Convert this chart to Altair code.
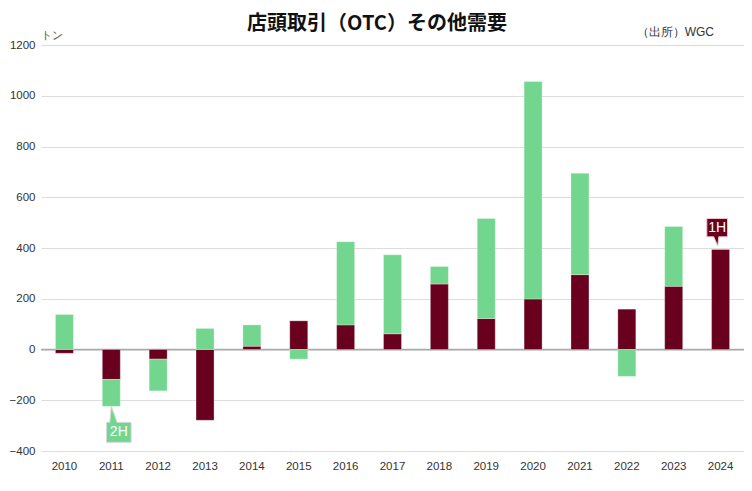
import altair as alt
import pandas as pd

years = [str(y) for y in range(2010, 2025)]
h1 = [-15, -118, -38, -279, 13, 113, 97, 62, 258, 122, 199, 295, 159, 249, 394]
h2 = [138, -106, -125, 83, 84, -38, 328, 311, 69, 394, 857, 400, -106, 236, None]
halves = ["1H", "2H"]
colors = ["#68001e", "#72d68e"]
y_ticks = [-400, -200, 0, 200, 400, 600, 800, 1000, 1200]
title_text = "店頭取引（OTC）その他需要"
source_text = "（出所）WGC"
unit_text = "トン"

rows = []
for yr, a, b in zip(years, h1, h2):
    rows.append({"year": yr, "half": "1H", "value": a})
    if b is not None:
        rows.append({"year": yr, "half": "2H", "value": b})
df = pd.DataFrame(rows)

# annotation anchors derived from data
ann = pd.DataFrame([
    {"year": years[1], "half": "2H", "tip": h1[1] + h2[1]},
    {"year": years[-1], "half": "1H", "tip": h1[-1]},
])

FONT = "Liberation Sans"
W, H = 703, 406

x_enc = alt.X(
    "year:N", sort=years,
    scale=alt.Scale(paddingInner=0, paddingOuter=0),
    axis=alt.Axis(title=None, labelAngle=0, ticks=False, domain=False, grid=False,
                  labelPadding=9, labelFontSize=11.5, labelColor="#333", labelFont=FONT),
)
y_scale = alt.Scale(domain=[-400, 1200], nice=False)
color_scale = alt.Scale(domain=halves, range=colors)

bars = alt.Chart(df).mark_bar(width=18, stroke="#ffffff", strokeWidth=0.6, strokeOpacity=0.5).encode(
    x=x_enc,
    y=alt.Y("value:Q", stack="zero", scale=y_scale,
            axis=alt.Axis(values=y_ticks, title=None, format="d",
                          ticks=False, domain=False, labelPadding=6, labelFontSize=11.5,
                          labelColor="#333", labelFont=FONT, gridColor="#dddddd")),
    color=alt.Color("half:N", scale=color_scale, legend=None),
    order=alt.Order("half:N", sort="ascending"),
)

zero = alt.Chart(pd.DataFrame({"v": [0]})).mark_rule(color="#aaaaaa", strokeWidth=1.5).encode(
    y=alt.Y("v:Q", scale=y_scale)
)

box2 = "M0,0 L0.46,1.28 L1.584,1.28 L1.584,2.88 L-0.384,2.88 L-0.384,1.28 L-0.12,1.28 Z"
box1 = "M-0.224,-0.272 L-0.144,-1.016 L0.56,-1.016 L0.56,-2.48 L-1.1,-2.48 L-1.1,-1.016 L-0.544,-1.016 Z"

a2 = ann[ann.half == "2H"]
a1 = ann[ann.half == "1H"]

ann2_box = alt.Chart(a2).mark_point(shape=box2, size=625, filled=True, opacity=1,
                                    stroke="#d8d8d8", strokeWidth=1).encode(
    x=alt.X("year:N", sort=years), y=alt.Y("tip:Q", scale=y_scale),
    fill=alt.Fill("half:N", scale=color_scale, legend=None),
)
ann2_txt = alt.Chart(a2).mark_text(dx=7.5, dy=26, color="white", fontSize=14, font=FONT,
                                   baseline="middle").encode(
    x=alt.X("year:N", sort=years), y=alt.Y("tip:Q", scale=y_scale), text="half:N",
)
ann1_box = alt.Chart(a1).mark_point(shape=box1, size=625, filled=True, opacity=1,
                                    stroke="#e8c8d0", strokeWidth=1).encode(
    x=alt.X("year:N", sort=years), y=alt.Y("tip:Q", scale=y_scale),
    fill=alt.Fill("half:N", scale=color_scale, legend=None),
)
ann1_txt = alt.Chart(a1).mark_text(dx=-3.4, dy=-21.5, color="white", fontSize=14, font=FONT,
                                   baseline="middle").encode(
    x=alt.X("year:N", sort=years), y=alt.Y("tip:Q", scale=y_scale), text="half:N",
)

source = alt.Chart(pd.DataFrame({"t": [source_text]})).mark_text(
    align="right", baseline="middle", fontSize=12, color="#333", font=FONT
).encode(x=alt.value(673), y=alt.value(-13), text="t:N")

unit = alt.Chart(pd.DataFrame({"t": [unit_text]})).mark_text(
    align="left", baseline="middle", fontSize=11, color="#555", font=FONT
).encode(x=alt.value(0), y=alt.value(-9), text="t:N")

title = alt.Chart(pd.DataFrame({"t": [title_text]})).mark_text(
    align="center", baseline="middle", fontSize=20, fontWeight="bold",
    font="Noto Sans CJK JP", color="#111"
).encode(x=alt.value(336), y=alt.value(-21), text="t:N")

chart = alt.layer(zero, bars, ann2_box, ann2_txt, ann1_box, ann1_txt, source, unit, title).properties(
    width=W, height=H,
    autosize=alt.AutoSizeParams(type="none"),
    padding={"left": 33, "top": 37, "right": 0, "bottom": 30},
).configure_view(stroke=None)

chart.save("out.html", embed_options={"renderer": "svg", "actions": False})
